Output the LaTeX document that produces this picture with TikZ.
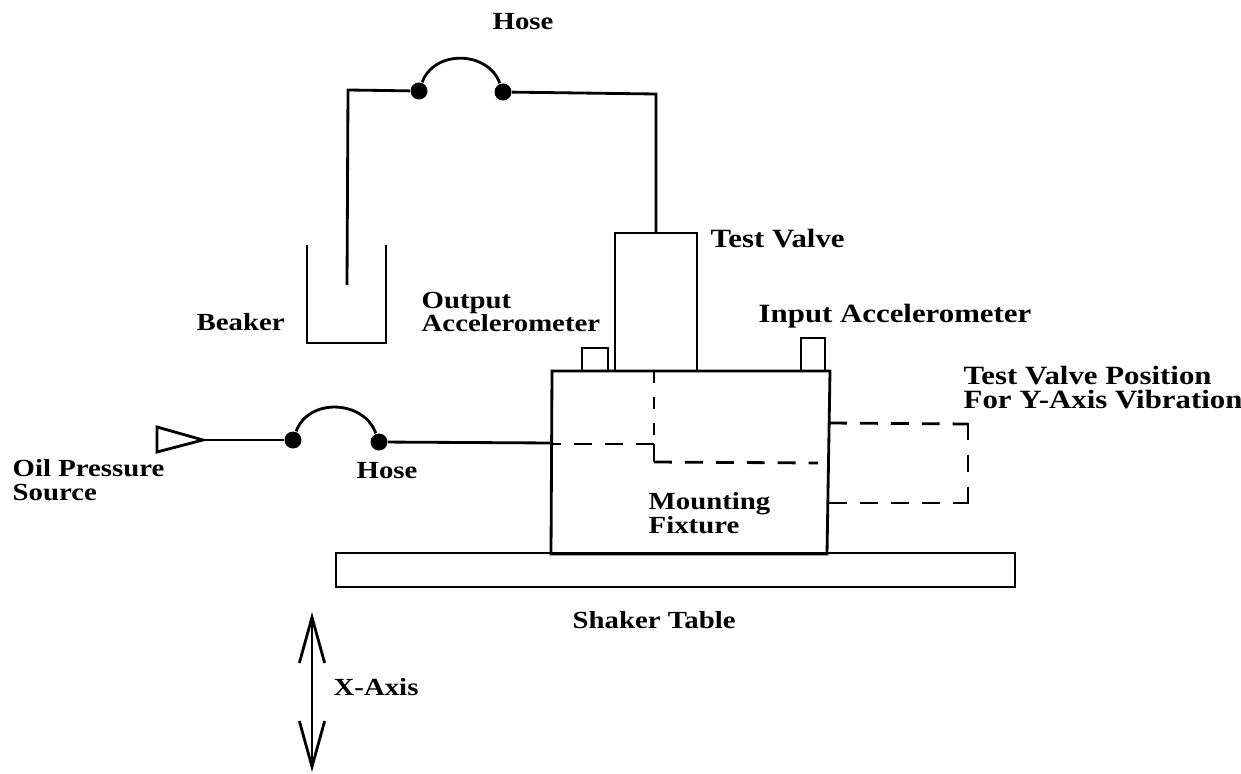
\documentclass[tikz,border=0pt]{standalone}
\usepackage{fontspec}
\setmainfont[FakeStretch=1.17]{Liberation Serif}
\usetikzlibrary{arrows.meta}

\begin{document}
\begin{tikzpicture}[>={Straight Barb[length=13pt,width=7.2pt]},
  every node/.style={font=\fontsize{7}{6.8}\selectfont\bfseries,align=left,inner sep=0pt},
  bigtext/.style={font=\fontsize{7.5}{7.1}\selectfont\bfseries},
  pipe/.style={line width=0.8pt},
  hidden/.style={line width=0.8pt,dash pattern=on 5.1pt off 3.7pt},
  fitting/.style={circle,fill=black,minimum size=0.17cm}]
\useasboundingbox (0,0) rectangle (12.41,7.73);
% Top hose to beaker
\node[fitting] (hoseAL) at (4.19,6.82) {};
\node[fitting] (hoseAR) at (5.03,6.81) {};
\coordinate (beakerIn) at (3.47,4.88);
\coordinate (valveTop) at (6.56,5.40);
\draw[pipe] (beakerIn) -- (3.48,6.83) -- (hoseAL);
\draw[pipe] (hoseAL) to[out=70,in=110,looseness=1.15] (hoseAR);
\draw[pipe] (hoseAR) -- (6.56,6.79) -- (valveTop);
\draw[pipe] (3.07,5.28) -- (3.07,4.30) -- (3.86,4.30) -- (3.86,5.28); % beaker
% Valve and fixture
\draw[pipe] (6.15,4.02) rectangle (6.97,5.40);
\draw[pipe] (5.82,4.02) rectangle (6.08,4.25);
\draw[pipe] (8.01,4.02) rectangle (8.25,4.35);
\draw[pipe] (5.52,4.02) -- (8.30,4.02) -- (8.27,2.19) -- (5.51,2.19) -- cycle;
\draw[pipe] (3.36,1.86) rectangle (10.15,2.20); % table
% Hidden passages
\draw[hidden] (6.54,3.29) -- (5.52,3.29);
\draw[pipe] (6.54,3.29) -- (6.54,3.11);
\draw[hidden] (6.54,3.11) -- (8.18,3.10);
\draw[hidden,dash pattern=on 3.4pt off 4pt] (6.54,3.38) -- (6.54,4.02);
\draw[hidden] (8.29,3.50) -- (9.68,3.49);
\draw[hidden] (8.29,2.70) -- (9.68,2.70);
\draw[hidden,dash pattern=on 4.8pt off 4.3pt] (9.68,3.50) -- (9.68,2.69);
% Lower hose
\node[fitting] (hoseBL) at (2.93,3.33) {};
\node[fitting] (hoseBR) at (3.79,3.31) {};
\coordinate (fixIn) at (5.52,3.30);
\coordinate (srcTip) at (2.03,3.33);
\draw[pipe] (srcTip) -- (1.57,3.46) -- (1.57,3.21) -- cycle;
\draw[pipe] (srcTip) -- (hoseBL);
\draw[pipe] (hoseBL) to[out=70,in=110,looseness=1.15] (hoseBR);
\draw[pipe] (hoseBR) -- (fixIn);
% Axis arrow
\coordinate (axisT) at (3.12,1.61);
\coordinate (axisB) at (3.12,0.01);
\draw[<->,pipe] (axisB) -- (axisT);
% Labels
\node[anchor=base west] (lbHoseA) at (4.92,7.43) {Hose};
\node[anchor=base west] (lbBeaker) at (1.96,4.43) {Beaker};
\node[anchor=base west] (lbOutput) at (4.21,4.41) {Output\\Accelerometer};
\node[anchor=base west,bigtext] (lbValve) at (7.10,5.25) {Test Valve};
\node[anchor=base west,bigtext] (lbInput) at (7.58,4.50) {Input Accelerometer};
\node[anchor=base west,bigtext] (lbPos) at (9.63,3.64) {Test Valve Position\\For Y-Axis Vibration};
\node[anchor=base west] (lbSource) at (0.12,2.73) {Oil Pressure\\Source};
\node[anchor=base west] (lbHoseB) at (3.56,2.95) {Hose};
\node[anchor=base west] (lbFix) at (6.48,2.40) {Mounting\\Fixture};
\node[anchor=base west] (lbTable) at (5.72,1.45) {Shaker Table};
\node[anchor=base west] (lbAxis) at (3.33,0.78) {X-Axis};
\end{tikzpicture}
\end{document}
